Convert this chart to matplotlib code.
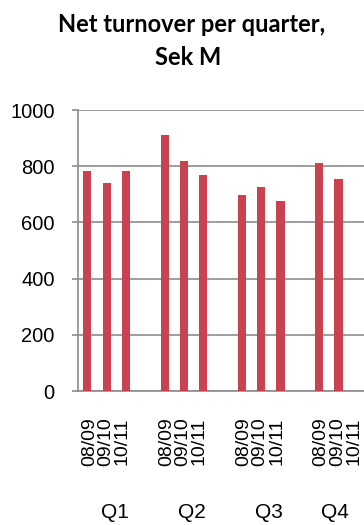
#!/usr/bin/env python3
#
# Net turnover per quarter, Sek M - bar chart, 3 fiscal years per quarter
#
import numpy as np
import matplotlib
matplotlib.use('Agg')
import matplotlib.pyplot as plt
import matplotlib.transforms as mtransforms

# data (one blank slot between quarters, Q4 10/11 not reported)
years = ['08/09', '09/10', '10/11', '']
quarters = ['Q1', 'Q2', 'Q3', 'Q4']
turnover = [783, 740, 783, np.nan,
            911, 818, 769, np.nan,
            697, 726, 676, np.nan,
            811, 754, np.nan, np.nan]

bar_color = '#C9424F'
grid_color = '#8C8C8C'

plt.rcParams['font.family'] = ['Liberation Sans', 'DejaVu Sans']

fig = plt.figure(figsize=(3.64, 5.25), dpi=100)
# the plot area goes on past the right border, as in the original
ax = fig.add_axes([0.2135, 0.2552, 0.849, 0.5352])

x = np.arange(len(turnover))
ax.bar(x, turnover, width=0.42, color=bar_color, zorder=3)

ax.set_xlim(-0.5, len(turnover) - 0.5)
ax.set_ylim(0, 1000)
ax.set_yticks(np.arange(0, 1001, 200))
ax.yaxis.grid(True, color=grid_color, linewidth=1.2, zorder=0)
ax.tick_params(axis='y', length=4.5, width=1.2, color=grid_color, pad=12, labelsize=14.5)

labels = [years[i % 4] for i in range(len(turnover))]
ax.set_xticks(x)
ax.set_xticklabels(labels, rotation=90, fontsize=14)
ax.tick_params(axis='x', length=0, pad=19)

# the three year labels sit a bit closer together than the bars
shift_px = [2, -1, -4, 0]
for i, lab in enumerate(ax.get_xticklabels()):
    dx = shift_px[i % 4] / 100.0
    lab.set_transform(lab.get_transform() + mtransforms.ScaledTranslation(dx, 0, fig.dpi_scale_trans))

for side in ['top', 'right']:
    ax.spines[side].set_visible(False)
for side in ['left', 'bottom']:
    ax.spines[side].set_color(grid_color)
    ax.spines[side].set_linewidth(1.2)

# quarter labels, centred on their group (last one on its visible part)
trans = mtransforms.blended_transform_factory(ax.transData, fig.transFigure)
x_right = ax.transData.inverted().transform(fig.transFigure.transform((1.0, 0)))[0]
for i, q in enumerate(quarters):
    lo = i * 4 - 0.5
    hi = min(lo + 4, x_right)
    ax.text((lo + hi) / 2 - 0.08, 0.024, q, transform=trans, ha='center', va='center',
            fontsize=15, clip_on=False)

title_font = dict(ha='center', va='baseline', fontsize=17, fontweight='bold',
                  family=['Lato', 'DejaVu Sans'])
fig.text(0.527, 0.939, 'Net turnover per quarter,', **title_font)
fig.text(0.517, 0.876, 'Sek M', **title_font)

fig.savefig('out.png', dpi=100)
